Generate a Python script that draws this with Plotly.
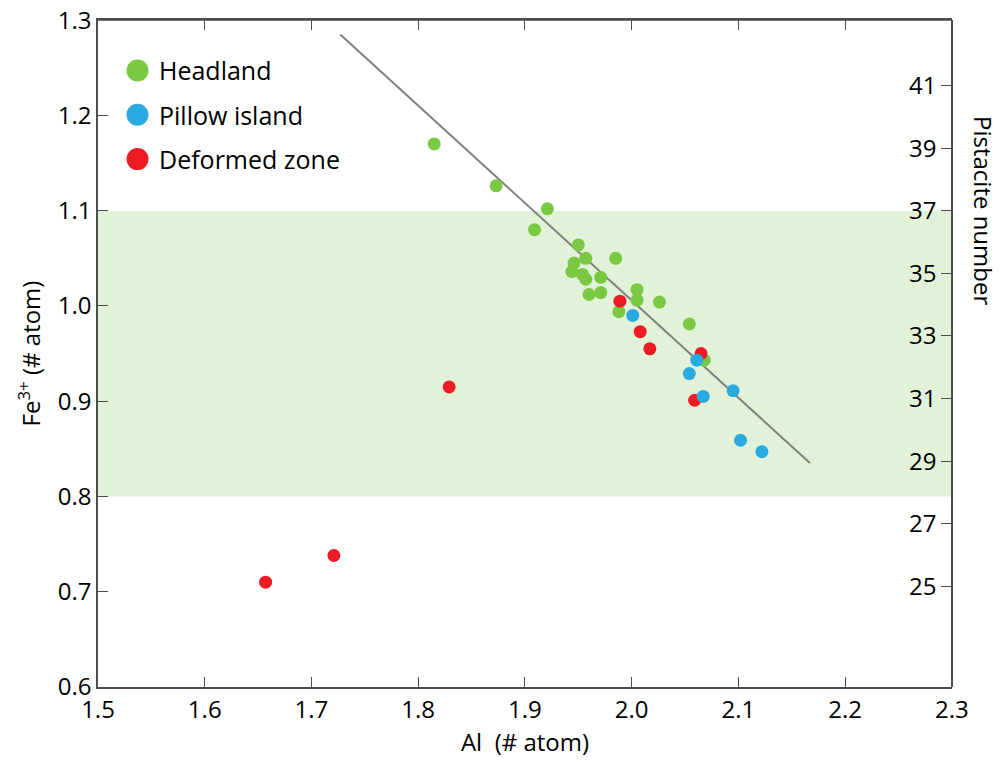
import plotly.graph_objects as go

# Data (Al, Fe3+ atoms per formula unit)
headland_al = [1.815, 1.873, 1.921, 1.909, 1.950, 1.957, 1.985, 1.946, 1.944, 1.954,
               1.957, 1.971, 1.960, 1.971, 2.005, 2.005, 2.026, 1.988, 2.054, 2.068]
headland_fe = [1.170, 1.126, 1.102, 1.080, 1.064, 1.050, 1.050, 1.045, 1.036, 1.033,
               1.028, 1.030, 1.012, 1.014, 1.017, 1.006, 1.004, 0.994, 0.981, 0.943]

pillow_al = [2.001, 2.061, 2.054, 2.067, 2.095, 2.102, 2.122]
pillow_fe = [0.990, 0.943, 0.929, 0.905, 0.911, 0.859, 0.847]

deformed_al = [1.829, 1.989, 2.008, 2.017, 2.065, 2.059, 1.657, 1.721]
deformed_fe = [0.915, 1.005, 0.973, 0.955, 0.950, 0.901, 0.710, 0.738]

# Trend line endpoints
trend_al = [1.727, 2.167]
trend_fe = [1.285, 0.835]

# Epidote field band (Fe3+)
band_fe = [0.80, 1.0995]

x_ticks = [1.5, 1.6, 1.7, 1.8, 1.9, 2.0, 2.1, 2.2, 2.3]
x_ticklabels = ["1.5", "1.6", "1.7", "1.8", "1.9", "2.0", "2.1", "2.2", "2.3"]
y_ticks = [0.6, 0.7, 0.8, 0.9, 1.0, 1.1, 1.2, 1.3]
y_ticklabels = ["0.6", "0.7", "0.8", "0.9", "1.0", "1.1", "1.2", "1.3"]
ps_ticks = [25, 27, 29, 31, 33, 35, 37, 39, 41]

legend_names = ["Headland", "Pillow island", "Deformed zone"]

GREEN = "#7AC943"
BLUE = "#29ABE2"
RED = "#ED1C24"
legend_colors = [GREEN, BLUE, RED]
FONT = "Open Sans"
AXIS_COLOR = "#4d4d4d"

X_RANGE = [1.5, 2.3001]
Y_RANGE = [0.6, 1.3001]
PS_RANGE = [21.78, 43.1]

# page has an 8px body margin; plot area target: x 98..952, y 20..687
W, H = 994, 758
ML, MR, MT, MB = 90, 50, 12, 79
PW = W - ML - MR
PH = H - MT - MB

fig = go.Figure()

fig.add_trace(go.Scatter(x=trend_al, y=trend_fe, mode="lines",
                         line=dict(color="#808080", width=2), showlegend=False,
                         hoverinfo="skip"))

fig.add_trace(go.Scatter(x=headland_al, y=headland_fe, mode="markers", name="Headland",
                         marker=dict(color=GREEN, size=13), showlegend=False))
fig.add_trace(go.Scatter(x=deformed_al, y=deformed_fe, mode="markers", name="Deformed zone",
                         marker=dict(color=RED, size=13), showlegend=False))
fig.add_trace(go.Scatter(x=pillow_al, y=pillow_fe, mode="markers", name="Pillow island",
                         marker=dict(color=BLUE, size=13), showlegend=False))

# invisible traces to activate secondary axes
fig.add_trace(go.Scatter(x=[X_RANGE[0]], y=[30], yaxis="y2", mode="markers",
                         marker=dict(opacity=0), showlegend=False, hoverinfo="skip"))
fig.add_trace(go.Scatter(x=[X_RANGE[0]], y=[Y_RANGE[0]], xaxis="x2", mode="markers",
                         marker=dict(opacity=0), showlegend=False, hoverinfo="skip"))

fig.add_shape(type="rect", xref="paper", x0=0, x1=1, yref="y", y0=band_fe[0], y1=band_fe[1],
              fillcolor="#E2F2D9", line=dict(width=0), layer="below")
# top frame line
fig.add_shape(type="line", xref="paper", yref="paper", x0=0, x1=1, y0=1, y1=1,
              line=dict(color=AXIS_COLOR, width=1.5), layer="above")

# Legend drawn as circles + labels (pixel positions relative to plot area)
annotations = []
for i, (name, col) in enumerate(zip(legend_names, legend_colors)):
    ypx = 50.5 + i * 44.3          # from top of plot area
    yp = 1 - ypx / PH
    fig.add_shape(type="circle", xref="paper", yref="paper",
                  xsizemode="pixel", ysizemode="pixel",
                  xanchor=39.5 / PW, yanchor=yp,
                  x0=-11, x1=11, y0=-11, y1=11,
                  fillcolor=col, line=dict(width=0))
    annotations.append(dict(text=name, xref="paper", yref="paper",
                            x=59 / PW, y=yp, xanchor="left", yanchor="middle",
                            showarrow=False, font=dict(family=FONT, size=25, color="black")))

annotations.append(dict(text="Pistacite number", xref="paper", yref="paper", x=1.0,
                        y=1 - 190 / PH, xanchor="center", yanchor="middle",
                        xshift=32, textangle=90, showarrow=False,
                        font=dict(family=FONT, size=24, color="black")))

axis_common = dict(showgrid=False, zeroline=False, showline=True, linecolor=AXIS_COLOR,
                   linewidth=1.5, ticklen=10, tickcolor=AXIS_COLOR,
                   tickwidth=1.3, automargin=False, ticklabeloverflow="allow",
                   tickfont=dict(family=FONT, size=24, color="black"))

fig.update_layout(
    width=W, height=H,
    margin=dict(l=ML, r=MR, t=MT, b=MB),
    plot_bgcolor="white", paper_bgcolor="white",
    font=dict(family=FONT, color="black"),
    showlegend=False,
    xaxis=dict(range=X_RANGE, tickvals=x_ticks, ticktext=x_ticklabels, ticks="inside",
               title=dict(text="Al  (# atom)", font=dict(family=FONT, size=24), standoff=6),
               **axis_common),
    xaxis2=dict(overlaying="x", side="top", anchor="y", range=X_RANGE, tickvals=x_ticks,
                ticks="inside", showticklabels=False, **axis_common),
    yaxis=dict(range=Y_RANGE, tickvals=y_ticks, ticktext=y_ticklabels, ticks="inside",
               title=dict(text="Fe<sup>3+</sup> (# atom)", font=dict(family=FONT, size=24), standoff=10),
               **axis_common),
    yaxis2=dict(overlaying="y", anchor="free", position=1.0, side="left", ticks="outside",
                range=PS_RANGE, tickvals=ps_ticks, **axis_common),
    annotations=annotations,
)

fig.write_html("out.html")
